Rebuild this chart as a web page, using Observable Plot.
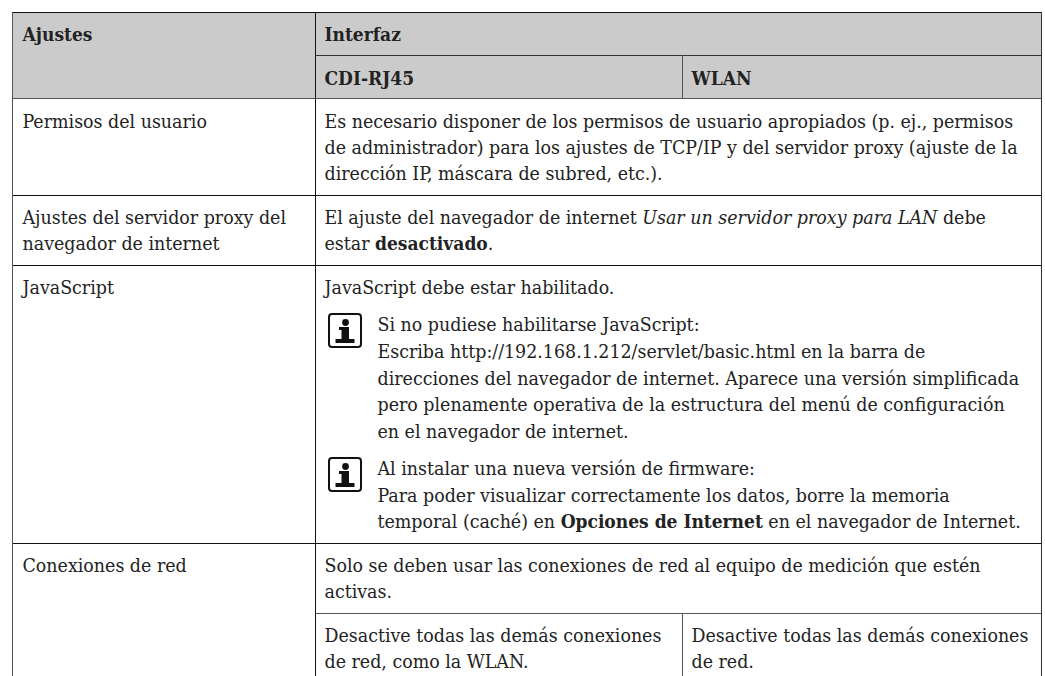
<!DOCTYPE html>
<html><head><meta charset="utf-8">
<script src="https://cdn.jsdelivr.net/npm/d3@7"></script>
<script src="https://cdn.jsdelivr.net/npm/@observablehq/plot@0.6"></script>
<style>html,body{margin:0;padding:0;background:#fff}svg{display:block}</style>
</head><body><div id="c"></div>
<script>
const FONT = '"DejaVu Serif Condensed","DejaVu Serif",serif';
const SIZE = 19.4;
const BOLD_SIZE = 19;
// Text content: [column, baseline, segments]; segment "*" bold, "_" italic
const headerLines = [
  ["a", 40, "**Ajustes"], ["b", 40, "**Interfaz"],
  ["b", 84, "**CDI-RJ45"], ["w", 84, "**WLAN"]
];
const bodyLines = [
  ["a", 127, "Permisos del usuario"],
  ["b", 127, "Es necesario disponer de los permisos de usuario apropiados (p. ej., permisos"],
  ["b", 153, "de administrador) para los ajustes de TCP/IP y del servidor proxy (ajuste de la"],
  ["b", 179, "dirección IP, máscara de subred, etc.)."],
  ["a", 223, "Ajustes del servidor proxy del"],
  ["a", 249, "navegador de internet"],
  ["b", 223, "El ajuste del navegador de internet |_Usar un servidor proxy para LAN| debe"],
  ["b", 249, "estar |**desactivado|."],
  ["a", 293, "JavaScript"],
  ["b", 293, "JavaScript debe estar habilitado."],
  ["t", 330, "Si no pudiese habilitarse JavaScript:"],
  ["t", 357, "Escriba http://192.168.1.212/servlet/basic.html en la barra de"],
  ["t", 384, "direcciones del navegador de internet. Aparece una versión simplificada"],
  ["t", 410, "pero plenamente operativa de la estructura del menú de configuración"],
  ["t", 437, "en el navegador de internet."],
  ["t", 474, "Al instalar una nueva versión de firmware:"],
  ["t", 501, "Para poder visualizar correctamente los datos, borre la memoria"],
  ["t", 527, "temporal (caché) en |**Opciones de Internet| en el navegador de Internet."],
  ["a", 571, "Conexiones de red"],
  ["b", 571, "Solo se deben usar las conexiones de red al equipo de medición que estén"],
  ["b", 597, "activas."],
  ["b", 641, "Desactive todas las demás conexiones"],
  ["b", 667, "de red, como la WLAN."],
  ["w", 641, "Desactive todas las demás conexiones"],
  ["w", 667, "de red."]
];
const columnStart = {a: 22, b: 324, w: 691, t: 377};

// Table geometry in page units
const headerBand = [{x1: 12, x2: 1041, y1: 12, y2: 98}];
const hRules = [
  {y: 12, x1: 12, x2: 1042, c: "#111"},
  {y: 55, x1: 315, x2: 1041, c: "#333"},
  {y: 98, x1: 12, x2: 1041, c: "#555"},
  {y: 195, x1: 12, x2: 1041, c: "#111"},
  {y: 265, x1: 12, x2: 1041, c: "#111"},
  {y: 543, x1: 12, x2: 1041, c: "#111"},
  {y: 613, x1: 315, x2: 1041, c: "#555"}
];
const vRules = [
  {x: 12, y1: 12, y2: 676, c: "#555"},
  {x: 315, y1: 12, y2: 676, c: "#111"},
  {x: 682, y1: 55, y2: 98, c: "#555"},
  {x: 682, y1: 613, y2: 676, c: "#555"},
  {x: 1041, y1: 12, y2: 676, c: "#333"}
];
const notes = [{x1: 329, x2: 361, y1: 314, y2: 347}, {x1: 329, x2: 361, y1: 458, y2: 491}];

// Split each line into styled runs placed one after the other
const ctx = document.createElement("canvas").getContext("2d");
function runs(lines) {
  const out = [];
  for (const [col, y, src] of lines) {
    let x = columnStart[col];
    for (let part of src.split("|")) {
      let weight = "normal", style = "normal";
      if (part.startsWith("**")) { weight = "bold"; part = part.slice(2); }
      else if (part.startsWith("_")) { style = "italic"; part = part.slice(1); }
      ctx.font = `${style} ${weight} ${weight === "bold" ? BOLD_SIZE : SIZE}px ${FONT}`;
      out.push({x, y, text: part, weight, style});
      x += ctx.measureText(part).width;
    }
  }
  return out;
}
const all = runs(headerLines).concat(runs(bodyLines));
const textMark = (f, w, s, size) => Plot.text(all.filter(f), {
  x: "x", y: "y", text: "text", textAnchor: "start", lineAnchor: "bottom",
  fontFamily: FONT, fontSize: size, fontWeight: w, fontStyle: s, fill: "#222"
});
const cx = d => (d.x1 + d.x2) / 2;
const ink = "#111";

const plot = Plot.plot({
  width: 1045, height: 676, margin: 0,
  style: {background: "#fff"},
  x: {domain: [0, 1045], range: [0, 1045], axis: null},
  y: {domain: [0, 676], range: [0, 676], axis: null},
  r: {type: "identity"},
  marks: [
    Plot.rect(headerBand, {x1: "x1", x2: "x2", y1: "y1", y2: "y2", fill: "#cbcbcb"}),
    Plot.ruleY(hRules, {y: "y", x1: "x1", x2: "x2", stroke: "c", strokeWidth: 1}),
    Plot.ruleX(vRules, {x: "x", y1: "y1", y2: "y2", stroke: "c", strokeWidth: 1}),
    textMark(d => d.weight === "normal" && d.style === "normal", "normal", "normal", SIZE),
    textMark(d => d.weight === "bold", "bold", "normal", BOLD_SIZE),
    textMark(d => d.style === "italic", "normal", "italic", SIZE),
    // Information note icons: frame, dot, top serif, stem and base
    Plot.rect(notes, {x1: "x1", x2: "x2", y1: "y1", y2: "y2", r: 3, fill: "none", stroke: ink, strokeWidth: 2}),
    Plot.dot(notes, {x: cx, y: d => d.y1 + 8, r: 3.4, fill: ink, stroke: "none"}),
    Plot.rect(notes, {x1: d => cx(d) - 6, x2: d => cx(d) + 4, y1: d => d.y1 + 13, y2: d => d.y1 + 16, fill: ink}),
    Plot.rect(notes, {x1: d => cx(d) - 3.5, x2: d => cx(d) + 4, y1: d => d.y1 + 13, y2: d => d.y2 - 6, fill: ink}),
    Plot.rect(notes, {x1: d => cx(d) - 9.5, x2: d => cx(d) + 9.5, y1: d => d.y2 - 8, y2: d => d.y2 - 4, fill: ink})
  ]
});
document.getElementById("c").appendChild(plot);
</script></body></html>
